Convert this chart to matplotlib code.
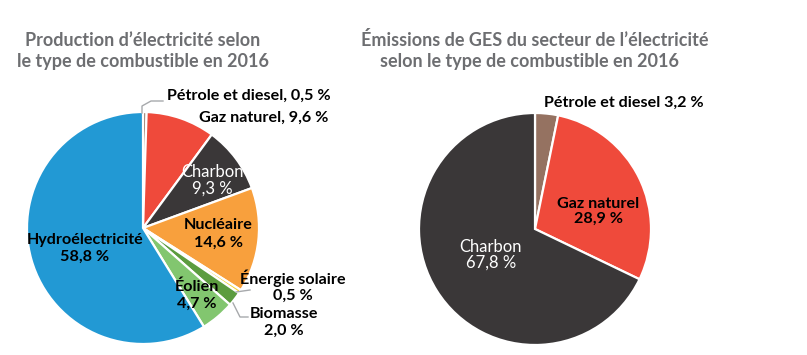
import matplotlib.pyplot as plt

plt.rcParams['font.family'] = ['Lato', 'DejaVu Sans']

# production d'électricité (sens horaire depuis le haut)
prod_labels = ["Pétrole et diesel", "Gaz naturel", "Charbon", "Nucléaire",
               "Énergie solaire", "Biomasse", "Éolien", "Hydroélectricité"]
prod_values = [0.5, 9.6, 9.3, 14.6, 0.5, 2.0, 4.7, 58.8]
prod_colors = ["#957261", "#ef4a3b", "#3a3738", "#f8a03d",
               "#f3d33a", "#5c9c3f", "#82c66f", "#2299d4"]

# émissions de GES
ges_labels = ["Pétrole et diesel", "Gaz naturel", "Charbon"]
ges_values = [3.2, 28.9, 67.8]
ges_colors = ["#957261", "#ef4a3b", "#3a3738"]

W, H = 807, 355


def Y(y):
    return H - y


def pct(v):
    return f"{v:.1f}".replace(".", ",") + " %"


fig = plt.figure(figsize=(W / 100, H / 100), dpi=100)
ax = fig.add_axes([0, 0, 1, 1])

wp = dict(edgecolor="white", linewidth=1.6)
ax.pie(prod_values, colors=prod_colors, startangle=90, counterclock=False,
       center=(143, Y(228)), radius=116, wedgeprops=wp, frame=True)
ax.pie(ges_values, colors=ges_colors, startangle=90, counterclock=False,
       center=(535, Y(229)), radius=116, wedgeprops=wp, frame=True)

ax.set_xlim(0, W)
ax.set_ylim(0, H)
ax.set_aspect("equal")
ax.axis("off")

title_kw = dict(color="#6d6e71", fontsize=13, fontweight="bold", ha="center", va="center")
ax.text(143, Y(40), "Production d’électricité selon", **title_kw)
ax.text(143, Y(61), "le type de combustible en 2016", **title_kw)
ax.text(535, Y(40), "Émissions de GES du secteur de l’électricité", **title_kw)
ax.text(530, Y(61), "selon le type de combustible en 2016", **title_kw)

lab = dict(color="black", fontsize=11.6, fontweight="bold", va="center")
wlab = dict(color="white", fontsize=12, va="center", ha="center")

# graphique de gauche
ax.text(167, Y(96), f"{prod_labels[0]}, {pct(prod_values[0])}", ha="left", **lab)
ax.text(199, Y(118), f"{prod_labels[1]}, {pct(prod_values[1])}", ha="left", **lab)
ax.text(212, Y(172), prod_labels[2], **wlab)
ax.text(212, Y(189), pct(prod_values[2]), **wlab)
ax.text(218, Y(225), prod_labels[3], ha="center", **lab)
ax.text(218, Y(243), pct(prod_values[3]), ha="center", **lab)
ax.text(293, Y(278), prod_labels[4], ha="center", **lab)
ax.text(293, Y(296), pct(prod_values[4]), ha="center", **lab)
ax.text(284, Y(314), prod_labels[5], ha="center", **lab)
ax.text(284, Y(331), pct(prod_values[5]), ha="center", **lab)
ax.text(197, Y(287), prod_labels[6], ha="center", **lab)
ax.text(197, Y(304), pct(prod_values[6]), ha="center", **lab)
ax.text(85, Y(240), prod_labels[7], ha="center", **lab)
ax.text(85, Y(257), pct(prod_values[7]), ha="center", **lab)

lc = dict(color="#a7a9ac", linewidth=1)
ax.plot([142, 142, 151, 163], [Y(113), Y(106), Y(101), Y(101)], **lc)
ax.plot([236, 250], [Y(292), Y(290)], **lc)
ax.plot([233, 240, 248], [Y(303), Y(317), Y(317)], **lc)

# graphique de droite
ax.text(544, Y(103), f"{ges_labels[0]} {pct(ges_values[0])}", ha="left", **lab)
ax.text(598, Y(204), ges_labels[1], ha="center", **lab)
ax.text(598, Y(219), pct(ges_values[1]), ha="center", **lab)
ax.text(491, Y(247), ges_labels[2], **wlab)
ax.text(491, Y(263), pct(ges_values[2]), **wlab)

fig.savefig("out.png", dpi=100)
